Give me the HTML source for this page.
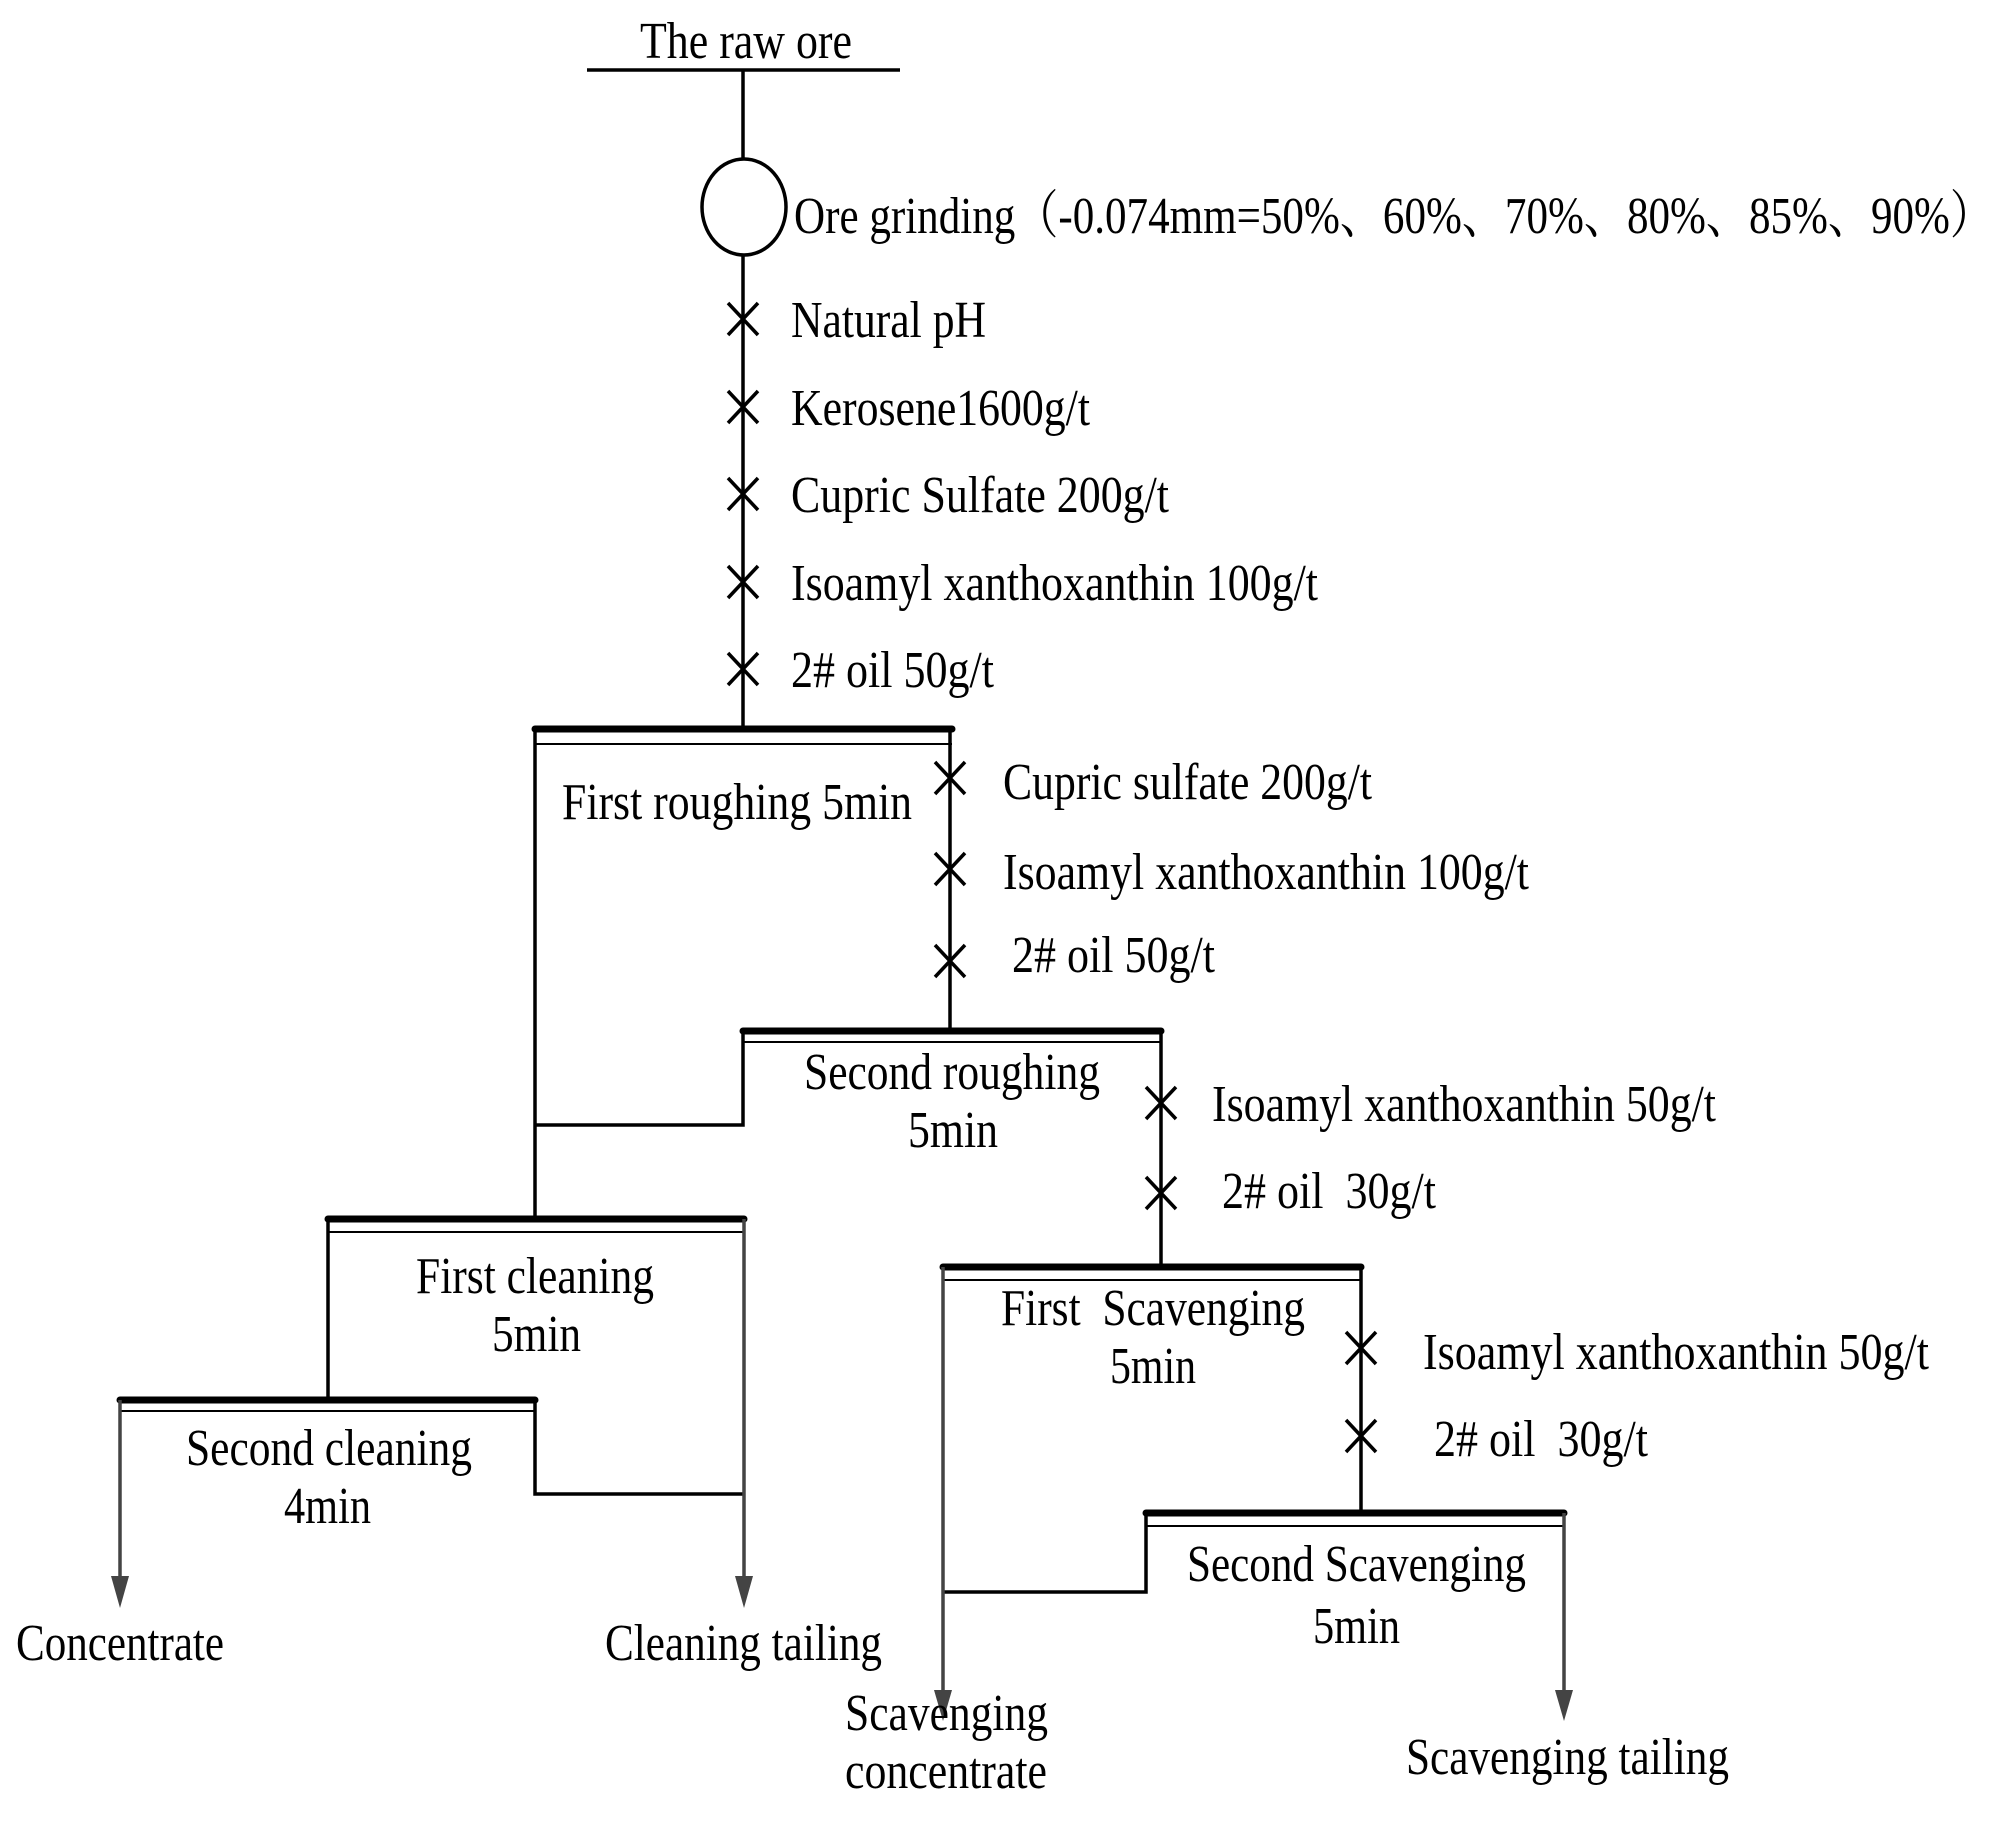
<!DOCTYPE html>
<html><head><meta charset="utf-8"><style>
html,body{margin:0;padding:0;background:#fff;}
svg{display:block;}
text{font-family:"Liberation Serif","Noto Serif CJK SC",serif;font-size:52px;fill:#000;}
</style></head><body>
<svg width="2008" height="1828" viewBox="0 0 2008 1828" xmlns="http://www.w3.org/2000/svg">
<g stroke="#000" stroke-width="3.5" fill="none">
<line x1="587" y1="70" x2="900" y2="70"/>
<line x1="743" y1="70" x2="743" y2="159"/>
<ellipse cx="744" cy="207" rx="42" ry="48"/>
<line x1="743" y1="255" x2="743" y2="729"/>
<g stroke-width="3.5">
<path d="M728 303L758 335M758 303L728 335"/>
<path d="M728 391L758 423M758 391L728 423"/>
<path d="M728 478L758 510M758 478L728 510"/>
<path d="M728 566L758 598M758 566L728 598"/>
<path d="M728 653L758 685M758 653L728 685"/>
<path d="M935 762L965 794M965 762L935 794"/>
<path d="M935 853L965 885M965 853L935 885"/>
<path d="M935 945L965 977M965 945L935 977"/>
<path d="M1146 1087L1176 1119M1176 1087L1146 1119"/>
<path d="M1146 1177L1176 1209M1176 1177L1146 1209"/>
<path d="M1346 1332L1376 1364M1376 1332L1346 1364"/>
<path d="M1346 1420L1376 1452M1376 1420L1346 1452"/>
</g>
<g stroke-width="7" stroke-linecap="round">
<line x1="535" y1="729" x2="952" y2="729"/>
<line x1="743" y1="1031" x2="1161" y2="1031"/>
<line x1="328" y1="1219" x2="744" y2="1219"/>
<line x1="120" y1="1400" x2="535" y2="1400"/>
<line x1="943" y1="1267" x2="1361" y2="1267"/>
<line x1="1146" y1="1513" x2="1564" y2="1513"/>
</g>
<g stroke-width="2">
<line x1="535" y1="744" x2="952" y2="744"/>
<line x1="743" y1="1042" x2="1161" y2="1042"/>
<line x1="328" y1="1232" x2="744" y2="1232"/>
<line x1="120" y1="1411" x2="535" y2="1411"/>
<line x1="943" y1="1280" x2="1361" y2="1280"/>
<line x1="1146" y1="1526" x2="1564" y2="1526"/>
</g>
<line x1="535" y1="729" x2="535" y2="1219"/>
<line x1="950" y1="729" x2="950" y2="1031"/>
<polyline points="743,1031 743,1125 535,1125"/>
<line x1="1161" y1="1031" x2="1161" y2="1267"/>
<line x1="328" y1="1219" x2="328" y2="1400"/>
<polyline points="535,1400 535,1494 744,1494"/>
<line x1="1361" y1="1267" x2="1361" y2="1513"/>
<polyline points="1146,1513 1146,1592 943,1592"/>
</g>
<g stroke="#444" stroke-width="3.5">
<line x1="744" y1="1219" x2="744" y2="1580"/>
<line x1="120" y1="1400" x2="120" y2="1580"/>
<line x1="943" y1="1267" x2="943" y2="1695"/>
<line x1="1564" y1="1513" x2="1564" y2="1695"/>
</g>
<g fill="#444">
<polygon points="735,1576 753,1576 744,1608"/>
<polygon points="111,1576 129,1576 120,1608"/>
<polygon points="934,1690 952,1690 943,1721"/>
<polygon points="1555,1690 1573,1690 1564,1721"/>
</g>
<g>
<text x="640" y="58" textLength="212" lengthAdjust="spacingAndGlyphs">The raw ore</text>
<text x="794" y="233" textLength="1199" lengthAdjust="spacingAndGlyphs">Ore grinding（-0.074mm=50%、60%、70%、80%、85%、90%）</text>
<text x="791" y="337" textLength="195" lengthAdjust="spacingAndGlyphs">Natural pH</text>
<text x="791" y="425" textLength="299" lengthAdjust="spacingAndGlyphs">Kerosene1600g/t</text>
<text x="791" y="512" textLength="378" lengthAdjust="spacingAndGlyphs">Cupric Sulfate 200g/t</text>
<text x="791" y="600" textLength="527" lengthAdjust="spacingAndGlyphs">Isoamyl xanthoxanthin 100g/t</text>
<text x="791" y="687" textLength="203" lengthAdjust="spacingAndGlyphs">2# oil 50g/t</text>
<text x="1003" y="799" textLength="369" lengthAdjust="spacingAndGlyphs">Cupric sulfate 200g/t</text>
<text x="1003" y="889" textLength="526" lengthAdjust="spacingAndGlyphs">Isoamyl xanthoxanthin 100g/t</text>
<text x="1012" y="972" textLength="203" lengthAdjust="spacingAndGlyphs">2# oil 50g/t</text>
<text x="562" y="819" textLength="350" lengthAdjust="spacingAndGlyphs">First roughing 5min</text>
<text x="804" y="1089" textLength="296" lengthAdjust="spacingAndGlyphs">Second roughing</text>
<text x="908" y="1147" textLength="90" lengthAdjust="spacingAndGlyphs">5min</text>
<text x="1212" y="1121" textLength="504" lengthAdjust="spacingAndGlyphs">Isoamyl xanthoxanthin 50g/t</text>
<text x="1222" y="1208" textLength="214" lengthAdjust="spacingAndGlyphs" xml:space="preserve">2# oil  30g/t</text>
<text x="416" y="1293" textLength="238" lengthAdjust="spacingAndGlyphs">First cleaning</text>
<text x="492" y="1351" textLength="89" lengthAdjust="spacingAndGlyphs">5min</text>
<text x="186" y="1465" textLength="286" lengthAdjust="spacingAndGlyphs">Second cleaning</text>
<text x="284" y="1523" textLength="87" lengthAdjust="spacingAndGlyphs">4min</text>
<text x="1001" y="1325" textLength="304" lengthAdjust="spacingAndGlyphs" xml:space="preserve">First  Scavenging</text>
<text x="1110" y="1383" textLength="86" lengthAdjust="spacingAndGlyphs">5min</text>
<text x="1423" y="1369" textLength="506" lengthAdjust="spacingAndGlyphs">Isoamyl xanthoxanthin 50g/t</text>
<text x="1434" y="1456" textLength="214" lengthAdjust="spacingAndGlyphs" xml:space="preserve">2# oil  30g/t</text>
<text x="1187" y="1581" textLength="339" lengthAdjust="spacingAndGlyphs">Second Scavenging</text>
<text x="1313" y="1643" textLength="87" lengthAdjust="spacingAndGlyphs">5min</text>
<text x="16" y="1660" textLength="208" lengthAdjust="spacingAndGlyphs">Concentrate</text>
<text x="605" y="1660" textLength="277" lengthAdjust="spacingAndGlyphs">Cleaning tailing</text>
<text x="845" y="1730" textLength="203" lengthAdjust="spacingAndGlyphs">Scavenging</text>
<text x="845" y="1788" textLength="202" lengthAdjust="spacingAndGlyphs">concentrate</text>
<text x="1406" y="1774" textLength="323" lengthAdjust="spacingAndGlyphs">Scavenging tailing</text>
</g>
</svg>
</body></html>
